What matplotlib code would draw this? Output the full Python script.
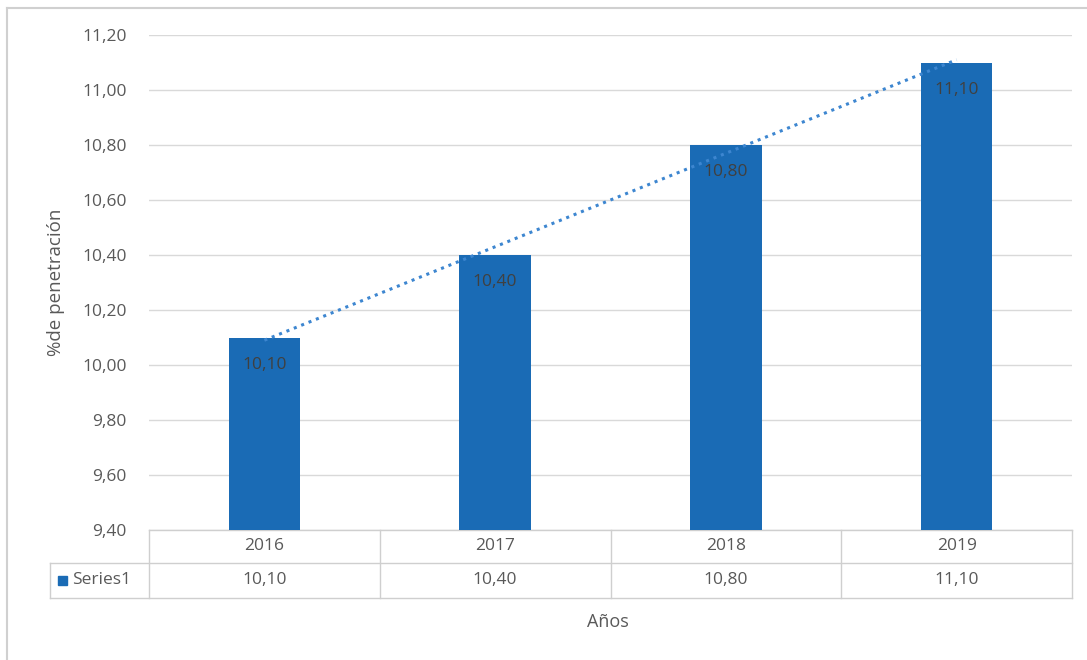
import matplotlib
matplotlib.use("Agg")
import matplotlib.pyplot as plt
import numpy as np
from matplotlib.lines import Line2D
from matplotlib.patches import Rectangle

# data
years = ["2016", "2017", "2018", "2019"]
values = [10.10, 10.40, 10.80, 11.10]
series_name = "Series1"
yticks = [9.40, 9.60, 9.80, 10.00, 10.20, 10.40, 10.60, 10.80, 11.00, 11.20]

bar_col = "#1a6bb5"
txt_col = "#595959"
grid_col = "#d9d9d9"
fmt = lambda v: f"{v:.2f}".replace(".", ",")
fs = 12.5

plt.rcParams['font.family'] = ['Open Sans', 'DejaVu Sans']

W, H = 1087, 660
fig = plt.figure(figsize=(W / 100, H / 100), dpi=100)
x0, x1, ytop, ybot = 149, 1072, 35, 530
ax = fig.add_axes([x0 / W, 1 - ybot / H, (x1 - x0) / W, (ybot - ytop) / H])

x = np.arange(len(years))
ax.bar(x, values, width=0.31, color=bar_col, zorder=3)
for xi, v in zip(x, values):
    ax.text(xi, v - 0.07, fmt(v), ha="center", va="top", fontsize=fs,
            color="#404040", zorder=4)

# linear trendline
k, b = np.polyfit(x, values, 1)
ax.plot(x, k * x + b, ls=(0, (1, 1.6)), lw=2.2, color="#3d86d0", zorder=5)

ax.set_xlim(-0.5, 3.5)
ax.set_ylim(9.40, 11.20)
ax.set_yticks(yticks)
ax.set_yticklabels([fmt(t) for t in yticks], fontsize=fs, color=txt_col)
ax.tick_params(axis="y", length=0, pad=16)
ax.set_xticks([])
ax.grid(axis="y", color=grid_col, lw=1, zorder=0)
for s in ax.spines.values():
    s.set_visible(False)

# data table below the plot
tcol = "#cfcfcf"
tr = ax.get_xaxis_transform()
r1 = -33 / (ybot - ytop)
r2 = -68 / (ybot - ytop)
lab_left = -0.5 - (x0 - 50) / ((x1 - x0) / 4)
kw = dict(transform=tr, color=tcol, lw=1, clip_on=False)
ax.add_line(Line2D([-0.5, 3.5], [0, 0], **kw))
ax.add_line(Line2D([lab_left, 3.5], [r1, r1], **kw))
ax.add_line(Line2D([lab_left, 3.5], [r2, r2], **kw))
ax.add_line(Line2D([lab_left, lab_left], [r1, r2], **kw))
for xv in [-0.5, 0.5, 1.5, 2.5, 3.5]:
    ax.add_line(Line2D([xv, xv], [0, r2], **kw))
for xi, yr, v in zip(x, years, values):
    ax.text(xi, r1 / 2, yr, transform=tr, ha="center", va="center",
            fontsize=fs, color=txt_col)
    ax.text(xi, (r1 + r2) / 2, fmt(v), transform=tr, ha="center", va="center",
            fontsize=fs, color=txt_col)
key_x = lab_left + 0.035
ax.add_patch(Rectangle((key_x, (r1 + r2) / 2 - 0.009), 0.04, 0.018,
                       transform=tr, color=bar_col, clip_on=False))
ax.text(key_x + 0.06, (r1 + r2) / 2, series_name, transform=tr, ha="left",
        va="center", fontsize=fs, color=txt_col)

fig.text(56 / W, 1 - 282 / H, "%de penetración", rotation=90, ha="center",
         va="center", fontsize=13.5, color=txt_col)
fig.text(608 / W, 1 - 622 / H, "Años", ha="center", va="center",
         fontsize=13, color=txt_col)

# chart border (top and left visible)
fig.add_artist(Line2D([7 / W, 1], [1 - 8 / H, 1 - 8 / H], color="#d0d0d0", lw=1.5,
                      transform=fig.transFigure))
fig.add_artist(Line2D([7 / W, 7 / W], [0, 1 - 8 / H], color="#d0d0d0", lw=1.5,
                      transform=fig.transFigure))

fig.savefig("out.png", dpi=100)
